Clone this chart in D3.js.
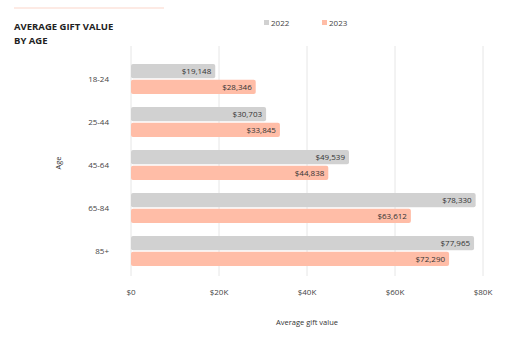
<!DOCTYPE html>
<html>
<head>
<meta charset="utf-8">
<script src="https://cdn.jsdelivr.net/npm/d3@7"></script>
<style>
  body { margin: 0; background: #fff; }
  text { font-family: "Open Sans", sans-serif; }
</style>
</head>
<body>
<svg id="chart"></svg>
<script>
// data
const ages = ["18-24", "25-44", "45-64", "65-84", "85+"];
const years = ["2022", "2023"];
const values2022 = [19148, 30703, 49539, 78330, 77965];
const values2023 = [28346, 33845, 44838, 63612, 72290];
const xTicks = [0, 20000, 40000, 60000, 80000];

const width = 512, height = 339;
const colors = {"2022": "#d1d1d1", "2023": "#ffbda7"};

const svg = d3.select("#chart").attr("width", width).attr("height", height);

// decorative line above title
svg.append("line")
  .attr("x1", 14).attr("x2", 164).attr("y1", 8).attr("y2", 8)
  .attr("stroke", "#fde3db").attr("stroke-width", 1.5);

svg.append("text").attr("x", 14).attr("y", 30)
  .attr("font-size", 9.5).attr("font-weight", 700).attr("fill", "#222")
  .text("AVERAGE GIFT VALUE");
svg.append("text").attr("x", 14).attr("y", 44)
  .attr("font-size", 9.5).attr("font-weight", 700).attr("fill", "#222")
  .text("BY AGE");

// legend
const legend = svg.append("g");
const legX = [264, 322];
years.forEach((yr, i) => {
  legend.append("rect").attr("x", legX[i]).attr("y", 20).attr("width", 5).attr("height", 5)
    .attr("fill", colors[yr]);
  legend.append("text").attr("x", legX[i] + 7).attr("y", 25.5)
    .attr("font-size", 8).attr("fill", "#444").text(yr);
});

const x = d3.scaleLinear().domain([0, 80000]).range([131, 483]);
const y = d3.scaleBand().domain(ages).range([57.5, 272.5]);
const sub = d3.scaleBand().domain(years).range([6.5, 36.5]).paddingInner(0.1);

// grid
svg.append("g").selectAll("line").data(xTicks).join("line")
  .attr("x1", d => x(d)).attr("x2", d => x(d))
  .attr("y1", 46).attr("y2", 276)
  .attr("stroke", "#e6e6e6").attr("stroke-width", 1);

// x tick labels
svg.append("g").selectAll("text").data(xTicks).join("text")
  .attr("x", d => x(d)).attr("y", 295)
  .attr("text-anchor", "middle").attr("font-size", 8).attr("fill", "#444")
  .text(d => d === 0 ? "$0" : "$" + d / 1000 + "K");

svg.append("text").attr("x", 307).attr("y", 325).attr("text-anchor", "middle")
  .attr("font-size", 7.5).attr("fill", "#333").text("Average gift value");

// y labels
svg.append("g").selectAll("text").data(ages).join("text")
  .attr("x", 109).attr("y", d => y(d) + y.bandwidth() / 2 + 3)
  .attr("text-anchor", "end").attr("font-size", 8).attr("fill", "#444")
  .text(d => d);

svg.append("text")
  .attr("transform", "translate(61,163) rotate(-90)")
  .attr("text-anchor", "middle").attr("font-size", 7.5).attr("fill", "#333").text("Age");

const rows = [];
ages.forEach((a, i) => {
  rows.push({age: a, year: "2022", value: values2022[i]});
  rows.push({age: a, year: "2023", value: values2023[i]});
});

const bars = svg.append("g").selectAll("g").data(rows).join("g");
bars.append("rect")
  .attr("x", x(0))
  .attr("y", d => y(d.age) + sub(d.year))
  .attr("width", d => x(d.value) - x(0))
  .attr("height", sub.bandwidth())
  .attr("rx", 2)
  .attr("fill", d => colors[d.year]);
bars.append("text")
  .attr("x", d => x(d.value) - 4)
  .attr("y", d => y(d.age) + sub(d.year) + sub.bandwidth() / 2 + 3)
  .attr("text-anchor", "end").attr("font-size", 8).attr("fill", "#333")
  .text(d => "$" + d3.format(",")(d.value));
</script>
</body>
</html>
